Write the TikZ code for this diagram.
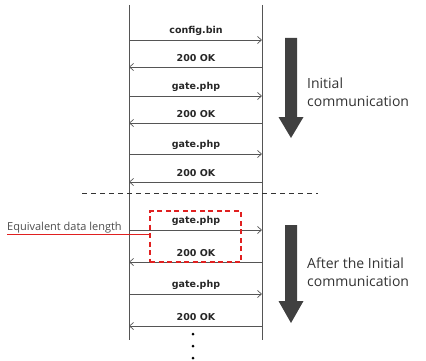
\documentclass[tikz,border=0pt]{standalone}
\usepackage{fontspec}
\setmainfont{Open Sans}
\newfontfamily\lblfont{DejaVu Sans}
\usetikzlibrary{arrows.meta}
\definecolor{lineg}{HTML}{555555}
\definecolor{bigarr}{HTML}{404040}
\definecolor{redline}{HTML}{E02020}
\tikzset{
  life/.style={draw=lineg, line width=0.8pt},
  msg/.style={draw=lineg, line width=0.7pt, -{Straight Barb[length=4pt,width=7pt]}},
  lbl/.style={font=\lblfont\fontsize{9.5}{11}\selectfont\bfseries, text=black!85, inner sep=0pt},
  phase/.style={font=\fontsize{14}{18}\selectfont, text=black!80, align=left, anchor=west, inner sep=0pt},
  dot/.style={circle, fill=black, inner sep=0pt, minimum size=3pt},
}
\begin{document}
\begin{tikzpicture}[x=1pt,y=-1pt]
\useasboundingbox (0,0) rectangle (426,361);
% lifelines
\coordinate (lt) at (129,5); \coordinate (lb) at (129,340);
\coordinate (rt) at (262,5); \coordinate (rb) at (262,340);
\draw[life] (lt) -- (lb);
\draw[life] (rt) -- (rb);
% messages
\foreach \n/\y/\t/\d in {1/40/config.bin/r, 2/67/200 OK/l, 3/96/gate.php/r, 4/123/200 OK/l, 5/154/gate.php/r, 6/182/200 OK/l, 7/230/gate.php/r, 8/262/200 OK/l, 9/294/gate.php/r, 10/326/200 OK/l}{
  \coordinate (a\n) at (129,\y);
  \coordinate (b\n) at (262,\y);
  \node[lbl] (t\n) at (196,\y-9) {\t};
  \if\d r \draw[msg] (a\n) -- (b\n); \else \draw[msg] (b\n) -- (a\n); \fi
}
% separator
\coordinate (s1) at (82,193); \coordinate (s2) at (318,193);
\draw[black!80, line width=1pt, dash pattern=on 5pt off 4pt] (s1) -- (s2);
% red box
\node[draw=redline, line width=1.2pt, dash pattern=on 5pt off 3.5pt, minimum width=91pt, minimum height=51pt, inner sep=0pt] (box) at (195.5,236.5) {};
\node[font=\fontsize{11}{13}\selectfont, text=black!70, anchor=base west, inner sep=0pt] (eq) at (7,230.5) {Equivalent data length};
\coordinate (u1) at (7,234.5);
\draw[redline, line width=0.8pt] (u1) -- (u1 -| box.west);
% big arrows
\fill[bigarr] (285,38) -- (297,38) -- (297,117) -- (303.5,117) -- (291,138) -- (278.5,117) -- (285,117) -- cycle;
\fill[bigarr] (285,225) -- (297,225) -- (297,301) -- (303.5,301) -- (291,323) -- (278.5,301) -- (285,301) -- cycle;
\node[phase] (p1) at (307,92) {Initial\\communication};
\node[phase] (p2) at (307,272) {After the Initial\\communication};
% dots
\node[dot] (d1) at (193,334) {};
\node[dot] (d2) at (193,346) {};
\node[dot] (d3) at (193,358) {};
\end{tikzpicture}
\end{document}
